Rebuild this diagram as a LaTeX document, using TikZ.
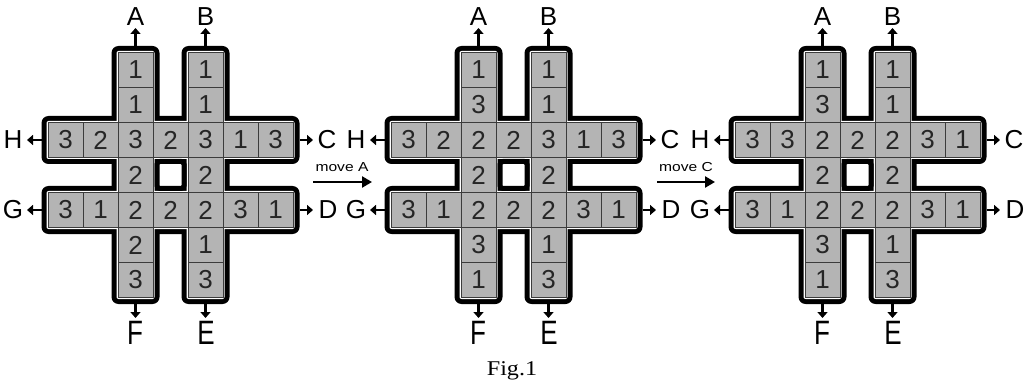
\documentclass[tikz,border=0pt]{standalone}
\usepackage{fontspec}
\setmainfont{Liberation Sans}
\newfontfamily\seriffont{Liberation Serif}
\usetikzlibrary{arrows.meta}
\definecolor{cellgray}{RGB}{180,180,180}
\definecolor{celledge}{RGB}{60,60,60}
\tikzset{
 cell/.style={draw=celledge, line width=0.8pt, fill=cellgray, minimum size=35pt, inner sep=0pt, font=\fontsize{26}{26}\selectfont, text=black!85},
 lbl/.style={font=\fontsize{26}{26}\selectfont, inner sep=0pt},
 larr/.style={line width=2.2pt, -{Triangle[length=6pt,width=10pt]}},
 marr/.style={line width=2.6pt, -{Triangle[length=10pt,width=11pt]}},
 mtxt/.style={font=\fontsize{13}{13}\selectfont, inner sep=0pt},
 outerband/.style={fill=black, rounded corners=7pt},
 innerband/.style={fill=white, rounded corners=2pt},
 holebox/.style={draw=black, fill=white, line width=5pt, rounded corners=3pt},
}
\newcommand\puzzle[6]{%
\begin{scope}[shift={(#1,52.5)}]
 \fill[outerband] (63.5,-6.5) rectangle (111.5,251.5);
 \fill[outerband] (133.5,-6.5) rectangle (181.5,251.5);
 \fill[outerband] (-6.5,63.5) rectangle (251.5,111.5);
 \fill[outerband] (-6.5,133.5) rectangle (251.5,181.5);
 \fill[innerband] (68.5,-1.5) rectangle (106.5,246.5);
 \fill[innerband] (138.5,-1.5) rectangle (176.5,246.5);
 \fill[innerband] (-1.5,68.5) rectangle (246.5,106.5);
 \fill[innerband] (-1.5,138.5) rectangle (246.5,176.5);
 \draw[holebox] (109,109) rectangle (136,136);
 \foreach \v [count=\j from 0] in {#3} {\node[cell] (#2a\j) at (87.5,{17.5+35*\j}) {\v};}
 \foreach \v [count=\j from 0] in {#4} {\node[cell] (#2b\j) at (157.5,{17.5+35*\j}) {\v};}
 \foreach \v [count=\i from 0] in {#5} {\ifnum\i=2\relax\else\ifnum\i=4\relax\else\node[cell] (#2h\i) at ({17.5+35*\i},87.5) {\v};\fi\fi}
 \foreach \v [count=\i from 0] in {#6} {\ifnum\i=2\relax\else\ifnum\i=4\relax\else\node[cell] (#2g\i) at ({17.5+35*\i},157.5) {\v};\fi\fi}
 \node[lbl] (#2A) at (87.5,-36) {A};
 \node[lbl] (#2B) at (157.5,-36) {B};
 \node[lbl] (#2H) at (-35,87.5) {H};
 \node[lbl] (#2G) at (-35,157.5) {G};
 \node[lbl] (#2C) at (279,87.5) {C};
 \node[lbl] (#2D) at (280,157.5) {D};
 \node[lbl] (#2F) at (87,280) {\scalebox{1}[1.3]{F}};
 \node[lbl] (#2E) at (158,280) {\scalebox{1}[1.3]{E}};
 \coordinate (#2Aout) at (87.5,-6.5);  \coordinate (#2Atip) at (87.5,-24.5);
 \coordinate (#2Bout) at (157.5,-6.5); \coordinate (#2Btip) at (157.5,-24.5);
 \coordinate (#2Hout) at (-6.5,87.5);  \coordinate (#2Htip) at (-21,87.5);
 \coordinate (#2Gout) at (-6.5,157.5); \coordinate (#2Gtip) at (-21,157.5);
 \coordinate (#2Cout) at (251.5,87.5); \coordinate (#2Ctip) at (265,87.5);
 \coordinate (#2Dout) at (251.5,157.5);\coordinate (#2Dtip) at (265,157.5);
 \coordinate (#2Fout) at (87.5,251.5); \coordinate (#2Ftip) at (87.5,265.5);
 \coordinate (#2Eout) at (157.5,251.5);\coordinate (#2Etip) at (157.5,265.5);
 \foreach \k in {A,B,C,D,E,F,G,H} {\draw[larr] (#2\k out) -- (#2\k tip);}
\end{scope}}
\begin{document}
\begin{tikzpicture}[x=1pt,y=-1pt]
\useasboundingbox (0,0) rectangle (1030,390);
\fill[white] (0,0) rectangle (1030,390);
\puzzle{48}{p}{1,1,3,2,2,2,3}{1,1,3,2,2,1,3}{3,2,3,2,3,1,3}{3,1,2,2,2,3,1}
\puzzle{391}{q}{1,3,2,2,2,3,1}{1,1,3,2,2,1,3}{3,2,2,2,3,1,3}{3,1,2,2,2,3,1}
\puzzle{735}{r}{1,3,2,2,2,3,1}{1,1,2,2,2,1,3}{3,3,2,2,2,3,1}{3,1,2,2,2,3,1}
\node[mtxt] (mA) at (342,167) {\scalebox{1.2}[1]{move A}};
\coordinate (mAs) at (313,182); \coordinate (mAe) at (372,182);
\draw[marr] (mAs) -- (mAe);
\node[mtxt] (mC) at (686,167) {\scalebox{1.2}[1]{move C}};
\coordinate (mCs) at (657,182); \coordinate (mCe) at (715,182);
\draw[marr] (mCs) -- (mCe);
\node[font=\seriffont\fontsize{21}{21}\selectfont, inner sep=0pt] (fig) at (512,371) {\scalebox{1.15}[1]{Fig.1}};
\end{tikzpicture}
\end{document}
